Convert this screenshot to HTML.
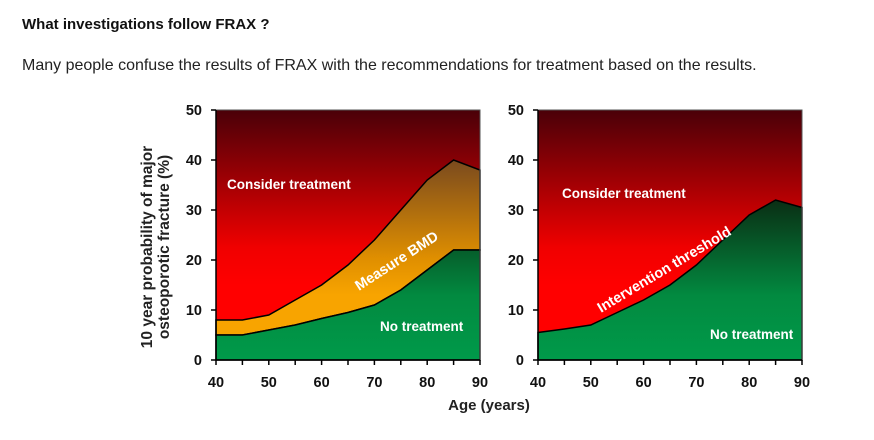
<!DOCTYPE html>
<html><head><meta charset="utf-8"><style>
body{margin:0;background:#fff;width:874px;height:435px;overflow:hidden;font-family:"Liberation Sans",Arial,sans-serif}
</style></head><body>
<svg width="874" height="435" xmlns="http://www.w3.org/2000/svg" font-family="Liberation Sans, Arial, sans-serif">
<defs>
<linearGradient id="red" gradientUnits="userSpaceOnUse" x1="0" y1="110" x2="0" y2="360">
<stop offset="0" stop-color="#4a0008"/><stop offset="0.55" stop-color="#f00000"/><stop offset="0.7" stop-color="#ff0000"/><stop offset="1" stop-color="#ff0000"/></linearGradient>
<linearGradient id="org" gradientUnits="userSpaceOnUse" x1="0" y1="160" x2="0" y2="340">
<stop offset="0" stop-color="#7a4a1e"/><stop offset="0.55" stop-color="#e08f00"/><stop offset="0.75" stop-color="#f8a400"/><stop offset="1" stop-color="#f8a400"/></linearGradient>
<linearGradient id="grn" gradientUnits="userSpaceOnUse" x1="0" y1="200" x2="0" y2="360">
<stop offset="0" stop-color="#0a2e14"/><stop offset="0.6" stop-color="#028a40"/><stop offset="1" stop-color="#009a4a"/></linearGradient>
</defs>
<text x="22" y="29" font-size="15" font-weight="bold" fill="#111">What investigations follow FRAX ?</text>
<text x="22" y="70" font-size="16" fill="#222">Many people confuse the results of FRAX with the recommendations for treatment based on the results.</text>

<!-- left chart -->
<rect x="216" y="110" width="264" height="250" fill="url(#red)"/>
<polygon fill="url(#org)" stroke="#000" stroke-width="1.5" points="216,320 242.4,320 268.8,315 295.2,300 321.6,285 348,265 374.4,240 400.8,210 427.2,180 453.6,160 480,170 480,250 453.6,250 427.2,270 400.8,290 374.4,305 348,312.5 321.6,318.5 295.2,325 268.8,330 242.4,335 216,335"/>
<polygon fill="url(#grn)" stroke="#000" stroke-width="1.5" points="216,335 242.4,335 268.8,330 295.2,325 321.6,318.5 348,312.5 374.4,305 400.8,290 427.2,270 453.6,250 480,250 480,360 216,360"/>
<rect x="216" y="110" width="264" height="250" fill="none" stroke="#555" stroke-width="1"/>
<text x="227" y="189" font-size="13.5" font-weight="bold" fill="#fff">Consider treatment</text>
<text x="380" y="331" font-size="13.5" font-weight="bold" fill="#fff">No treatment</text>
<text transform="translate(359,291) rotate(-33)" font-size="14.5" font-weight="bold" fill="#fff">Measure BMD</text>
<g stroke="#000" stroke-width="1.5">
<line x1="216" y1="110" x2="216" y2="365"/>
<line x1="211" y1="360" x2="480" y2="360"/>
<line x1="211" y1="110" x2="216" y2="110"/><line x1="211" y1="160" x2="216" y2="160"/><line x1="211" y1="210" x2="216" y2="210"/><line x1="211" y1="260" x2="216" y2="260"/><line x1="211" y1="310" x2="216" y2="310"/>
<line x1="242.4" y1="360" x2="242.4" y2="365"/><line x1="268.8" y1="360" x2="268.8" y2="365"/><line x1="295.2" y1="360" x2="295.2" y2="365"/><line x1="321.6" y1="360" x2="321.6" y2="365"/><line x1="348" y1="360" x2="348" y2="365"/><line x1="374.4" y1="360" x2="374.4" y2="365"/><line x1="400.8" y1="360" x2="400.8" y2="365"/><line x1="427.2" y1="360" x2="427.2" y2="365"/><line x1="453.6" y1="360" x2="453.6" y2="365"/><line x1="480" y1="360" x2="480" y2="365"/>
</g>
<g font-size="14.5" font-weight="bold" fill="#111" text-anchor="end">
<text x="202" y="115">50</text><text x="202" y="165">40</text><text x="202" y="215">30</text><text x="202" y="265">20</text><text x="202" y="315">10</text><text x="202" y="365">0</text>
</g>
<g font-size="14.5" font-weight="bold" fill="#111" text-anchor="middle">
<text x="216" y="387">40</text><text x="268.8" y="387">50</text><text x="321.6" y="387">60</text><text x="374.4" y="387">70</text><text x="427.2" y="387">80</text><text x="480" y="387">90</text>
</g>
<text transform="translate(152,247) rotate(-90)" text-anchor="middle" font-size="15.5" font-weight="bold" fill="#222">10 year probability of major</text>
<text transform="translate(169,247) rotate(-90)" text-anchor="middle" font-size="15.5" font-weight="bold" fill="#222">osteoporotic fracture (%)</text>

<!-- right chart -->
<rect x="538" y="110" width="264" height="250" fill="url(#red)"/>
<polygon fill="url(#grn)" stroke="#000" stroke-width="1.5" points="538,332.5 564.4,329 590.8,325 617.2,312.5 643.6,300 670,285 696.4,265 722.8,240 749.2,215 775.6,200 802,207.5 802,360 538,360"/>
<rect x="538" y="110" width="264" height="250" fill="none" stroke="#555" stroke-width="1"/>
<text x="562" y="198" font-size="13.5" font-weight="bold" fill="#fff">Consider treatment</text>
<text x="710" y="339" font-size="13.5" font-weight="bold" fill="#fff">No treatment</text>
<text transform="translate(601,313) rotate(-31)" font-size="14.5" font-weight="bold" fill="#fff">Intervention threshold</text>
<g stroke="#000" stroke-width="1.5">
<line x1="538" y1="110" x2="538" y2="365"/>
<line x1="533" y1="360" x2="802" y2="360"/>
<line x1="533" y1="110" x2="538" y2="110"/><line x1="533" y1="160" x2="538" y2="160"/><line x1="533" y1="210" x2="538" y2="210"/><line x1="533" y1="260" x2="538" y2="260"/><line x1="533" y1="310" x2="538" y2="310"/>
<line x1="564.4" y1="360" x2="564.4" y2="365"/><line x1="590.8" y1="360" x2="590.8" y2="365"/><line x1="617.2" y1="360" x2="617.2" y2="365"/><line x1="643.6" y1="360" x2="643.6" y2="365"/><line x1="670" y1="360" x2="670" y2="365"/><line x1="696.4" y1="360" x2="696.4" y2="365"/><line x1="722.8" y1="360" x2="722.8" y2="365"/><line x1="749.2" y1="360" x2="749.2" y2="365"/><line x1="775.6" y1="360" x2="775.6" y2="365"/><line x1="802" y1="360" x2="802" y2="365"/>
</g>
<g font-size="14.5" font-weight="bold" fill="#111" text-anchor="end">
<text x="524" y="115">50</text><text x="524" y="165">40</text><text x="524" y="215">30</text><text x="524" y="265">20</text><text x="524" y="315">10</text><text x="524" y="365">0</text>
</g>
<g font-size="14.5" font-weight="bold" fill="#111" text-anchor="middle">
<text x="538" y="387">40</text><text x="590.8" y="387">50</text><text x="643.6" y="387">60</text><text x="696.4" y="387">70</text><text x="749.2" y="387">80</text><text x="802" y="387">90</text>
</g>
<text x="489" y="410" text-anchor="middle" font-size="15" font-weight="bold" fill="#222">Age (years)</text>
</svg>
</body></html>
